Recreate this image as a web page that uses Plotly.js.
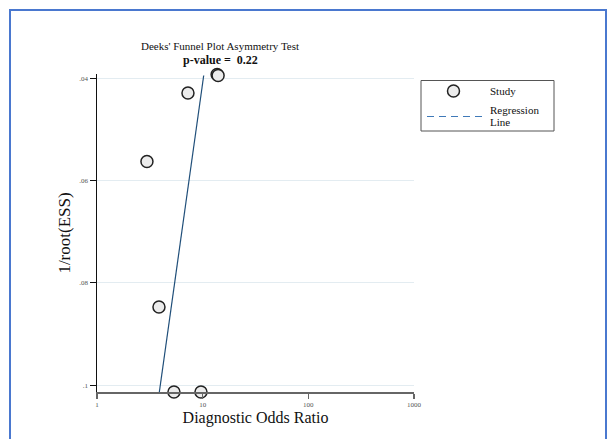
<!DOCTYPE html>
<html>
<head>
<meta charset="utf-8">
<script src="https://cdn.plot.ly/plotly-3.0.1.min.js"></script>
<style>
html,body{margin:0;padding:0;background:#fff;}
#wrap{position:relative;width:609px;height:439px;overflow:hidden;}
#chart{position:absolute;left:0;top:0;width:609px;height:439px;}
#frame{position:absolute;left:9px;top:9px;width:598px;height:460px;border:2px solid #4a78cf;box-sizing:border-box;pointer-events:none;}
</style>
</head>
<body>
<div id="wrap"><div id="chart"></div><div id="frame"></div></div>
<script>
// Study points: diagnostic odds ratio vs 1/root(ESS)
var studyDOR = [13.7, 14.0, 7.26, 2.97, 3.86, 5.35, 9.64];
var studyInvRootESS = [0.0393, 0.0395, 0.0429, 0.0563, 0.0847, 0.1013, 0.1013];

// Regression line end points
var regDOR = [10.23, 3.89];
var regInvRootESS = [0.0395, 0.1013];

var xTickVals = [1, 10, 100, 1000];
var xTickText = ['1', '10', '100', '1000'];
var yTickVals = [0.04, 0.06, 0.08, 0.1];
var yTickText = ['.04', '.06', '.08', '.1'];

var titleLine1 = "Deeks' Funnel Plot Asymmetry Test";
var titleLine2 = "<b>p-value&nbsp;=&nbsp;&nbsp;0.22</b>";
var legendLabels = ['Study', 'Regression', 'Line'];

var serif = '"Liberation Serif", "DejaVu Serif", serif';

// plot area in pixels (for placing decorations)
var L = 97, R = 414, T = 74, B = 392;
function px(x) { return (x - L) / (R - L); }
function py(y) { return (B - y) / (B - T); }

var traces = [
  {
    x: regDOR, y: regInvRootESS, type: 'scatter', mode: 'lines',
    line: {color: '#1f4e79', width: 1.2}, showlegend: false, hoverinfo: 'skip'
  },
  {
    x: studyDOR, y: studyInvRootESS, type: 'scatter', mode: 'markers',
    name: 'Study', cliponaxis: false, showlegend: false,
    marker: {symbol: 'circle', size: 12, color: '#ececec', line: {color: '#222', width: 1.5}}
  }
];

var shapes = [
  // legend box
  {type: 'rect', xref: 'paper', yref: 'paper', x0: px(421), x1: px(554), y0: py(131), y1: py(80.5),
   line: {color: '#555', width: 1}, fillcolor: '#fff', layer: 'above'},
  // legend marker
  {type: 'circle', xref: 'paper', yref: 'paper', xsizemode: 'pixel', ysizemode: 'pixel',
   xanchor: px(453.5), yanchor: py(91), x0: -6, x1: 6, y0: -6, y1: 6,
   line: {color: '#222', width: 1.5}, fillcolor: '#ececec', layer: 'above'},
  // legend dashed line
  {type: 'line', xref: 'paper', yref: 'paper', x0: px(427), x1: px(483), y0: py(116.5), y1: py(116.5),
   line: {color: '#3f79b8', width: 1, dash: '7px,5px'}, layer: 'above'}
];

function ann(text, x, y, xanchor, size) {
  return {text: text, xref: 'paper', yref: 'paper', x: px(x), y: py(y), xanchor: xanchor, yanchor: 'middle',
          showarrow: false, borderpad: 0, font: {family: serif, size: size, color: '#111'}};
}

var annotations = [
  ann(titleLine1, 220, 46, 'center', 11),
  ann(titleLine2, 220, 59.5, 'center', 12),
  ann(legendLabels[0], 489, 91, 'left', 11),
  ann(legendLabels[1], 489, 110, 'left', 11),
  ann(legendLabels[2], 489, 122, 'left', 11)
];

var layout = {
  width: 609, height: 439,
  margin: {l: L, r: 609 - R, t: T, b: 439 - B},
  paper_bgcolor: '#fff', plot_bgcolor: '#fff',
  font: {family: serif, color: '#111'},
  showlegend: false,
  xaxis: {
    type: 'log', range: [0, 3],
    tickvals: xTickVals, ticktext: xTickText,
    tickfont: {family: serif, size: 7, color: '#555'},
    ticks: 'outside', ticklen: 5, tickcolor: '#666', tickwidth: 1.5,
    showline: true, linecolor: '#666', linewidth: 2,
    showgrid: false, zeroline: false,
    title: {text: 'Diagnostic Odds Ratio', font: {family: serif, size: 16, color: '#111'}, standoff: 3}
  },
  yaxis: {
    range: [0.1013, 0.0392],
    tickvals: yTickVals, ticktext: yTickText,
    tickfont: {family: serif, size: 7, color: '#555'},
    ticks: 'outside', ticklen: 6, tickcolor: '#111', tickwidth: 1,
    showline: true, linecolor: '#111', linewidth: 1.5,
    showgrid: true, gridcolor: '#e3ecf1', gridwidth: 1, zeroline: false,
    title: {text: '1/root(ESS)', font: {family: serif, size: 17, color: '#111'}, standoff: 4}
  },
  shapes: shapes,
  annotations: annotations
};

Plotly.newPlot('chart', traces, layout, {displayModeBar: false, staticPlot: true});
</script>
</body>
</html>
